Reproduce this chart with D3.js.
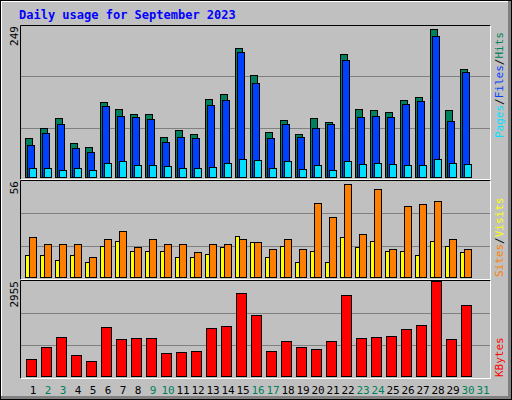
<!DOCTYPE html>
<html><head><meta charset="utf-8">
<script src="https://cdn.jsdelivr.net/npm/d3@7"></script>
<style>body{margin:0;background:#fff}svg{display:block}</style>
</head><body>
<script>
const days = d3.range(1, 32);
const weekends = [2,3,9,10,16,17,23,24,30,31];
const hits   = [66,83,99,57,51,126,115,106,106,67,79,72,131,140,217,172,76,96,72,99,93,207,115,113,109,130,135,249,113,182];
const files  = [54,74,89,49,42,119,103,101,98,59,67,66,121,130,211,158,66,89,67,83,89,197,101,103,101,123,128,237,94,177];
const pages  = [15,15,12,15,12,24,27,20,20,19,15,15,17,24,30,29,15,27,13,20,12,27,22,24,22,20,20,30,24,22];
const sites  = [13,13,10,13,9,19,22,16,16,16,12,12,14,18,25,21,12,19,9,16,9,24,18,22,16,16,13,22,19,15];
const visits = [24,20,20,20,12,23,28,18,23,20,20,15,20,20,23,21,17,23,17,45,36,56,26,53,17,43,44,46,23,17];
const kbytes = [528,917,1208,658,464,1531,1143,1176,1176,723,755,787,1499,1564,2599,1920,787,1079,917,852,1079,2534,1176,1208,1240,1467,1596,2955,1143,2211];
const maxLabels = ["249","56","2955"];

const W=512,H=400;
const svg=d3.select("body").append("svg").attr("width",W).attr("height",H);
const font="'DejaVu Sans Mono', monospace";
// frame
svg.append("rect").attr("x",0).attr("y",0).attr("width",W).attr("height",H).attr("fill","#000");
svg.append("rect").attr("x",1).attr("y",1).attr("width",W-2).attr("height",H-2).attr("fill","#808080");
svg.append("rect").attr("x",1).attr("y",1).attr("width",W-5).attr("height",H-5).attr("fill","#fff");
svg.append("rect").attr("x",2).attr("y",2).attr("width",W-6).attr("height",H-6).attr("fill","#c0c0c0");

svg.append("text").attr("x",19).attr("y",19).attr("fill","#0000ff").attr("font-family",font)
  .attr("font-weight","bold").attr("font-size",12).text("Daily usage for September 2023");

const x = d3.scaleLinear().domain([1,31]).range([25,475]);
const panels=[
  {top:25,base:177,max:256},
  {top:180,base:277,max:58.6},
  {top:280,base:376,max:3000}
];
panels.forEach((p,i)=>{
  p.y=d3.scaleLinear().domain([0,p.max]).range([p.base,p.top]);
  const g=svg.append("g");
  const h=p.base+2-p.top;
  [1,2].forEach(k=>g.append("line").attr("x1",20).attr("x2",490)
    .attr("y1",Math.round(p.top+h*k/3)+0.5).attr("y2",Math.round(p.top+h*k/3)+0.5).attr("stroke","#808080").attr("stroke-width",1));
  g.append("path").attr("d",`M20.5,${p.base+2.5}V${p.top+0.5}H490.5`).attr("stroke","#000").attr("fill","none");
  g.append("path").attr("d",`M20.5,${p.base+2.5}H490.5V${p.top+0.5}`).attr("stroke","#fff").attr("fill","none");
  svg.append("text").attr("transform",`translate(18,${p.top+1}) rotate(-90)`).attr("text-anchor","end")
    .attr("font-family",font).attr("font-size",11).attr("fill","#000").text(maxLabels[i]);
});

function bars(p,data,dx,w,color){
  svg.append("g").selectAll("rect").data(data).join("rect")
    .attr("x",(d,i)=>x(i+1)+dx+0.5).attr("width",w)
    .attr("y",d=>Math.round(p.y(d))+0.5).attr("height",d=>p.base-Math.round(p.y(d)))
    .attr("fill",color).attr("stroke","#000").attr("stroke-width",1);
}
bars(panels[0],hits,0,7,"#00805c");
bars(panels[0],files,2,7,"#0040ff");
bars(panels[0],pages,4,7,"#00e0ff");
bars(panels[1],sites,0,4,"#ffff00");
bars(panels[1],visits,4,7,"#ff8000");
bars(panels[2],kbytes,1,10,"#ff0000");

svg.append("g").selectAll("text").data(days).join("text")
  .attr("x",d=>x(d)+8).attr("y",394).attr("text-anchor","middle")
  .attr("font-family",font).attr("font-size",11)
  .attr("fill",d=>weekends.includes(d)?"#00805c":"#000").text(d=>d);

function sideLabel(yb,parts){
  const t=svg.append("text").attr("transform",`translate(503,${yb}) rotate(-90)`)
    .attr("font-family",font).attr("font-size",11);
  parts.forEach(([s,c])=>t.append("tspan").attr("fill",c).text(s));
}
sideLabel(138,[["Pages","#00e0ff"],["/","#000"],["Files","#0040ff"],["/","#000"],["Hits","#00805c"]]);
sideLabel(277,[["Sites","#ff8000"],["/","#000"],["Visits","#ffff00"]]);
sideLabel(377,[["KBytes","#ff0000"]]);
</script>
</body></html>
